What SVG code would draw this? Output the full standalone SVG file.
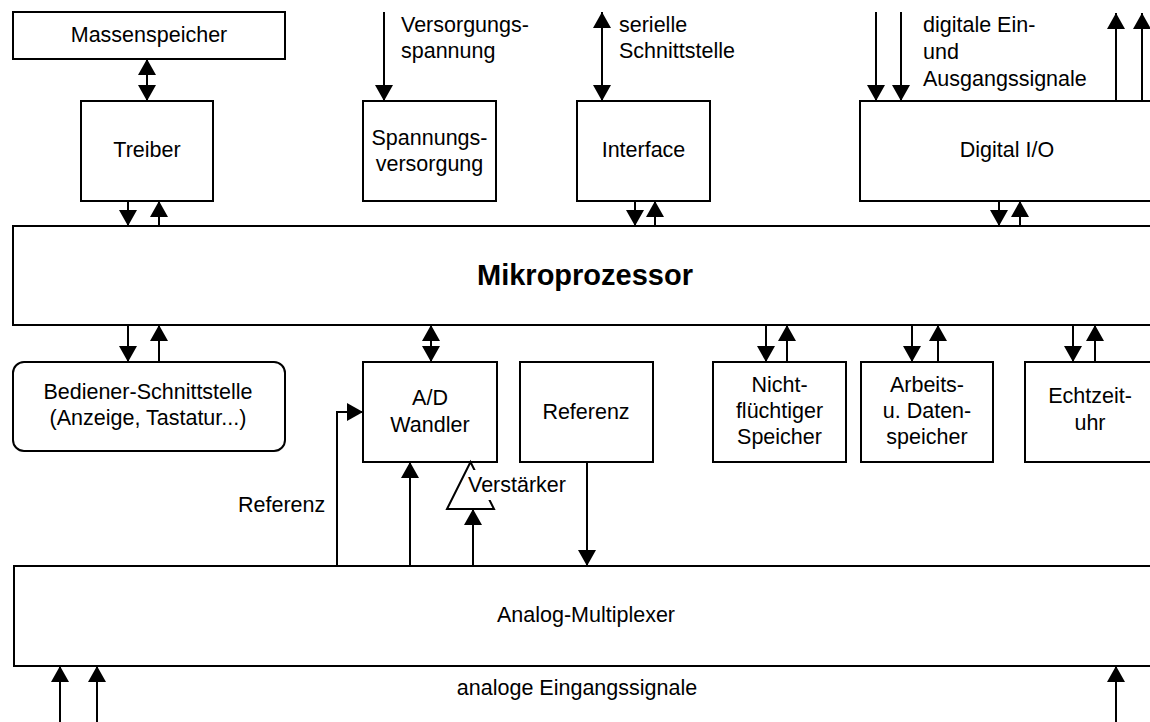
<svg xmlns="http://www.w3.org/2000/svg" width="1150" height="722" viewBox="0 0 1150 722">
<defs>
<marker id="ah" markerUnits="userSpaceOnUse" markerWidth="16" markerHeight="18" refX="16" refY="9" orient="auto-start-reverse" viewBox="0 0 16 18">
<path d="M0,0 L16,9 L0,18 z" fill="#000"/>
</marker>
</defs>
<style>
.box{fill:#fff;stroke:#000;stroke-width:2}
.ln{fill:none;stroke:#000;stroke-width:2}
.a{marker-end:url(#ah)}
.d{marker-start:url(#ah);marker-end:url(#ah)}
text{font-family:"Liberation Sans",Arial,sans-serif;font-size:21.5px;fill:#000}
.c{text-anchor:middle}
.b{font-weight:bold;font-size:29px}
</style>
<rect width="1150" height="722" fill="#fff"/>

<g id="massenspeicher"><rect class="box" x="13" y="12" width="272" height="47"/><text class="c" x="149" y="42">Massenspeicher</text></g>
<g id="treiber"><rect class="box" x="81" y="101" width="132" height="100"/><text class="c" x="147" y="157">Treiber</text></g>
<g id="spannungsversorgung"><rect class="box" x="363" y="101" width="133" height="100"/><text class="c" x="429.5" y="145">Spannungs-</text><text class="c" x="429.5" y="171">versorgung</text></g>
<g id="interface"><rect class="box" x="577" y="101" width="133" height="100"/><text class="c" x="643.5" y="157">Interface</text></g>
<g id="digital-io"><rect class="box" x="860" y="101" width="294" height="100"/><text class="c" x="1007" y="157">Digital I/O</text></g>
<g id="mikroprozessor"><rect class="box" x="13" y="226" width="1141" height="99"/><text class="c b" x="585" y="285">Mikroprozessor</text></g>
<g id="bediener"><rect class="box" x="13" y="362" width="272" height="89" rx="11" ry="11"/><text class="c" x="148" y="399">Bediener-Schnittstelle</text><text class="c" x="148" y="425">(Anzeige, Tastatur...)</text></g>
<g id="ad-wandler"><rect class="box" x="363" y="362" width="134" height="100"/><text class="c" x="430" y="405">A/D</text><text class="c" x="430" y="432">Wandler</text></g>
<g id="referenz"><rect class="box" x="520" y="362" width="133" height="100"/><text class="c" x="586" y="419">Referenz</text></g>
<g id="nichtfluechtig"><rect class="box" x="713" y="362" width="133" height="100"/><text class="c" x="779.5" y="392">Nicht-</text><text class="c" x="779.5" y="418">flüchtiger</text><text class="c" x="779.5" y="444">Speicher</text></g>
<g id="arbeitsspeicher"><rect class="box" x="861" y="362" width="132" height="100"/><text class="c" x="927" y="392">Arbeits-</text><text class="c" x="927" y="418">u. Daten-</text><text class="c" x="927" y="444">speicher</text></g>
<g id="echtzeituhr"><rect class="box" x="1025" y="362" width="130" height="100"/><text class="c" x="1090" y="403">Echtzeit-</text><text class="c" x="1090" y="430">uhr</text></g>
<g id="verstaerker"><polygon class="box" points="470.5,462 447,509 494,509"/><rect x="470" y="470" width="102" height="30" fill="#fff"/><text x="468" y="492">Verstärker</text></g>
<g id="analog-multiplexer"><rect class="box" x="14" y="566" width="1140" height="100"/><text class="c" x="586" y="622">Analog-Multiplexer</text></g>

<g id="connectors">
<line class="ln d" x1="147" y1="59" x2="147" y2="101"/>
<line class="ln a" x1="128" y1="201" x2="128" y2="226"/>
<line class="ln a" x1="159" y1="226" x2="159" y2="201"/>
<line class="ln a" x1="384" y1="12" x2="384" y2="101"/>
<line class="ln d" x1="602" y1="12" x2="602" y2="101"/>
<line class="ln a" x1="635" y1="201" x2="635" y2="226"/>
<line class="ln a" x1="655" y1="226" x2="655" y2="201"/>
<line class="ln a" x1="876" y1="12" x2="876" y2="101"/>
<line class="ln a" x1="901" y1="12" x2="901" y2="101"/>
<line class="ln a" x1="1116" y1="101" x2="1116" y2="13"/>
<line class="ln a" x1="1142" y1="101" x2="1142" y2="13"/>
<line class="ln a" x1="999" y1="201" x2="999" y2="226"/>
<line class="ln a" x1="1020" y1="226" x2="1020" y2="201"/>
<line class="ln a" x1="128" y1="325" x2="128" y2="362"/>
<line class="ln a" x1="159" y1="362" x2="159" y2="325"/>
<line class="ln d" x1="431" y1="325" x2="431" y2="362"/>
<line class="ln a" x1="766" y1="325" x2="766" y2="362"/>
<line class="ln a" x1="787" y1="362" x2="787" y2="325"/>
<line class="ln a" x1="912" y1="325" x2="912" y2="362"/>
<line class="ln a" x1="938" y1="362" x2="938" y2="325"/>
<line class="ln a" x1="1073" y1="325" x2="1073" y2="362"/>
<line class="ln a" x1="1095" y1="362" x2="1095" y2="325"/>
<path class="ln a" d="M337,566 V412 H363"/>
<line class="ln a" x1="410" y1="566" x2="410" y2="462"/>
<line class="ln a" x1="473" y1="566" x2="473" y2="509"/>
<line class="ln a" x1="587" y1="462" x2="587" y2="566"/>
<line class="ln a" x1="60" y1="722" x2="60" y2="666"/>
<line class="ln a" x1="97" y1="722" x2="97" y2="666"/>
<line class="ln a" x1="1116" y1="722" x2="1116" y2="666"/>
</g>

<g id="labels">
<text x="401" y="32">Versorgungs-</text>
<text x="401" y="58">spannung</text>
<text x="619" y="32">serielle</text>
<text x="619" y="58">Schnittstelle</text>
<text x="923" y="32">digitale Ein-</text>
<text x="923" y="59">und</text>
<text x="923" y="86">Ausgangssignale</text>
<text x="238" y="512">Referenz</text>
<text class="c" x="577" y="695">analoge Eingangssignale</text>
</g>
</svg>
